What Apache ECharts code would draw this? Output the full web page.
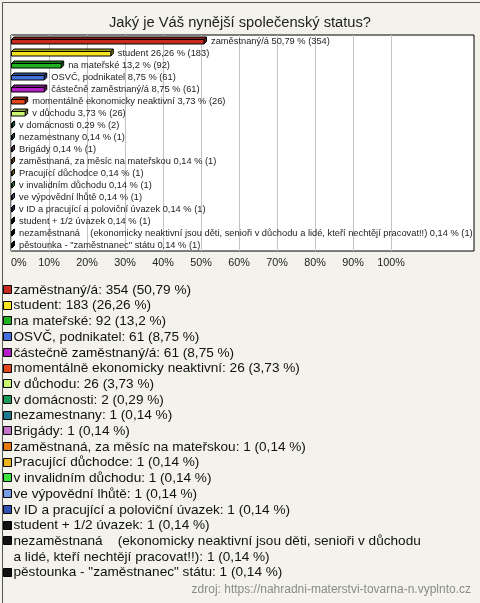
<!DOCTYPE html>
<html><head><meta charset="utf-8">
<script src="https://cdn.jsdelivr.net/npm/echarts@6/dist/echarts.min.js"></script>
<style>html,body{margin:0;padding:0;background:#f4f3eb}#c{width:480px;height:603px}</style>
</head><body><div id="c"></div>
<script>
var title = 'Jaký je Váš nynější společenský status?';
var categories = ['zaměstnaný/á','student','na mateřské','OSVČ, podnikatel','částečně zaměstnaný/á','momentálně ekonomicky neaktivní','v důchodu','v domácnosti','nezamestnany','Brigády','zaměstnaná, za měsíc na mateřskou','Pracující důchodce','v invalidním důchodu','ve výpovědní lhůtě','v ID a pracující a poloviční úvazek','student + 1/2 úvazek','nezaměstnaná    (ekonomicky neaktivní jsou děti, senioři v důchodu a lidé, kteří nechtějí pracovat!!)','pěstounka - "zaměstnanec" státu'];
var counts = [354,183,92,61,61,26,26,2,1,1,1,1,1,1,1,1,1,1];
var percents = [50.79,26.26,13.2,8.75,8.75,3.73,3.73,0.29,0.14,0.14,0.14,0.14,0.14,0.14,0.14,0.14,0.14,0.14];
var colors = ['#c62b1d','#f6e41f','#1fb31f','#4471db','#b51ec6','#e4471c','#c9f76f','#1a9b5b','#217b8f','#c773c9','#e8790f','#ebb41a','#3fe43f','#779ce3','#3252b5','#111111','#111111','#111111'];
var xTicks = [0,10,20,30,40,50,60,70,80,90,100];
var source = 'zdroj: https://nahradni-materstvi-tovarna-n.vyplnto.cz';

var FONT = '"Liberation Sans", Arial, sans-serif';
function fmt(p){ return String(p).replace('.', ','); }
function shade(hex, f){
  var n = parseInt(hex.slice(1),16);
  var r=(n>>16)&255,g=(n>>8)&255,b=n&255;
  return 'rgb('+Math.round(r*f)+','+Math.round(g*f)+','+Math.round(b*f)+')';
}

var chart = echarts.init(document.getElementById('c'), null, {renderer:'canvas'});

var GL = 11, GT = 35, GW = 463, GH = 216, PX = 3.8;

var barData = percents.map(function(p,i){ return [p, i]; });

function renderItem(params, api){
  var i = api.value(1), v = api.value(0);
  var p0 = api.coord([0, i]), p1 = api.coord([v, i]);
  var cy = p0[1];
  var x0 = Math.round(p0[0]) + 0.5, x1 = Math.max(x0 + 0.5, p1[0]);
  var top = Math.round(cy) - 1.5, bot = top + 4.5, d = 2.5;
  var c = colors[i];
  var st = {stroke:'#000', lineWidth:1};
  var label = categories[i] + ' ' + fmt(percents[i]) + ' % (' + counts[i] + ')';
  return {type:'group', children:[
    {type:'polygon', shape:{points:[[x0,top],[x0+d,top-d],[x1+d,top-d],[x1,top]]}, style:Object.assign({fill:shade(c,0.7)},st)},
    {type:'polygon', shape:{points:[[x1,top],[x1+d,top-d],[x1+d,bot-d],[x1,bot]]}, style:Object.assign({fill:shade(c,0.55)},st)},
    {type:'rect', shape:{x:x0,y:top,width:x1-x0,height:bot-top}, style:Object.assign({fill:c},st)},
    {type:'text', x:x1 + d + 4.5, y:Math.round(cy)+0.5, style:{text:label, fill:'#222', font:'9.3px '+FONT, verticalAlign:'middle', align:'left'}}
  ]};
}

var graphics = [
  {type:'rect', left:0, top:0, shape:{x:0.5,y:0.5,width:479,height:602}, style:{fill:'none', stroke:'#555', lineWidth:1}, silent:true, z:100}
];
var LY0 = 290, LSTEP = 15.7;
var lineIdx = 0;
categories.forEach(function(cat, i){
  var cy = LY0 + lineIdx*LSTEP;
  var txt = cat + ': ' + counts[i] + ' (' + fmt(percents[i]) + ' %)';
  graphics.push({type:'rect', shape:{x:3.5, y:Math.round(cy)-4.5, width:8, height:8}, style:{fill:colors[i], stroke:'#000', lineWidth:1}, silent:true});
  graphics.push({type:'text', x:13.5, y:cy - LSTEP/2, style:{text:txt, fill:'#111', font:'13.6px '+FONT, lineHeight:LSTEP, verticalAlign:'top', align:'left', width:462, overflow:'break'}, silent:true});
  lineIdx += (i === 16 ? 2 : 1);
});
graphics.push({type:'text', right:9, top:584, style:{text:source, fill:'#8a8a8a', font:'12px '+FONT}, silent:true});

chart.setOption({
  backgroundColor:'#f4f3eb',
  animation:false,
  title:{text:title, left:'center', top:10, textStyle:{fontSize:14.7, fontWeight:'normal', color:'#222', fontFamily:FONT}},
  grid:[
    {left:GL, top:GT, width:GW, height:GH, show:true, backgroundColor:'#fff', borderColor:'#000', borderWidth:1},
    {left:GL, top:GT, width:PX*100, height:GH, show:false}
  ],
  xAxis:[
    {gridIndex:0, type:'value', min:0, max:GW/PX, axisLine:{show:false}, axisTick:{show:false}, axisLabel:{show:false}, splitLine:{show:false}},
    {gridIndex:1, type:'value', min:0, max:100, interval:10, axisLine:{show:false}, axisTick:{show:false},
      axisLabel:{show:true, formatter:'{value}%', color:'#222', fontSize:10.8, fontFamily:FONT, margin:7, alignMinLabel:'left'},
      splitLine:{show:true, lineStyle:{color:'#c4c4c4', width:1}}}
  ],
  yAxis:[
    {gridIndex:0, type:'category', data:categories, inverse:true, show:false},
    {gridIndex:1, type:'category', data:categories, inverse:true, show:false}
  ],
  series:[{type:'custom', xAxisIndex:0, yAxisIndex:0, data:barData, renderItem:renderItem, clip:false, z:5}],
  graphic:graphics
});
</script></body></html>
